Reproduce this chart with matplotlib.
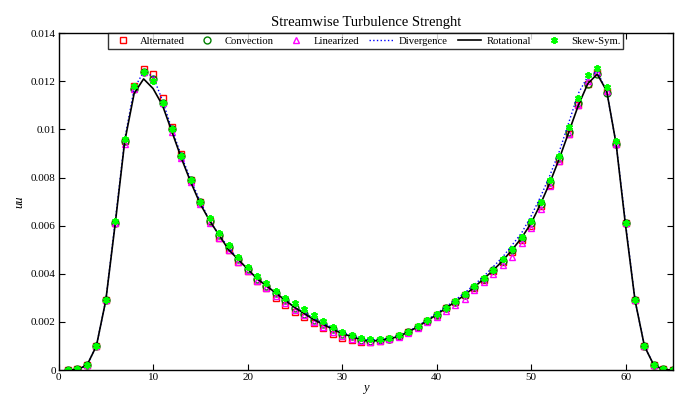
import numpy as np
import matplotlib
matplotlib.use("Agg")
import matplotlib.pyplot as plt

plt.rcParams["font.family"] = ["Liberation Serif", "DejaVu Serif"]
plt.rcParams["mathtext.fontset"] = "stix"

# grid points across the channel
y_pts = list(range(1, 66))

alternated = [
    0, 0.00003, 0.0002, 0.001, 0.0029, 0.0061, 0.0095, 0.0118, 0.0125, 0.0123,
    0.0113, 0.0101, 0.0090, 0.0079, 0.0070, 0.0062, 0.0055, 0.0050, 0.0045, 0.0041,
    0.0037, 0.0034, 0.0030, 0.0027, 0.0024, 0.0022, 0.00196, 0.00173, 0.00152, 0.00135,
    0.00124, 0.00117, 0.00117, 0.00121, 0.0013, 0.0014, 0.00157, 0.0018, 0.00205, 0.0023,
    0.00257, 0.00284, 0.00312, 0.00342, 0.00375, 0.0041, 0.0045, 0.0049, 0.0054, 0.0060,
    0.0068, 0.0077, 0.0087, 0.0098, 0.0110, 0.0119, 0.0124, 0.0116, 0.0094, 0.0061,
    0.0029, 0.0010, 0.0002, 0.00003, 0,
]
convection = [
    0, 0.00003, 0.0002, 0.001, 0.0029, 0.0061, 0.0095, 0.0117, 0.0124, 0.0121,
    0.0111, 0.0100, 0.0089, 0.0079, 0.0070, 0.0062, 0.0056, 0.0051, 0.0046, 0.0042,
    0.0038, 0.0035, 0.0032, 0.0029, 0.0026, 0.00235, 0.0021, 0.0019, 0.0017, 0.00152,
    0.0014, 0.00126, 0.0012, 0.00124, 0.0013, 0.0014, 0.00157, 0.0018, 0.00205, 0.0023,
    0.00257, 0.00285, 0.00313, 0.00345, 0.0038, 0.00415, 0.00455, 0.0050, 0.0055, 0.0061,
    0.0069, 0.0078, 0.0088, 0.0099, 0.0111, 0.0119, 0.0123, 0.0115, 0.0094, 0.0061,
    0.0029, 0.0010, 0.0002, 0.00003, 0,
]
linearized = [
    0, 0.00003, 0.0002, 0.001, 0.0029, 0.0061, 0.0094, 0.0117, 0.0124, 0.0121,
    0.0111, 0.0099, 0.0088, 0.0078, 0.0069, 0.0061, 0.0055, 0.0050, 0.0045, 0.0041,
    0.0037, 0.0034, 0.0031, 0.0028, 0.0025, 0.0023, 0.0020, 0.0018, 0.0016, 0.0014,
    0.0013, 0.0012, 0.00118, 0.00121, 0.00128, 0.00138, 0.00153, 0.00175, 0.00198, 0.0022,
    0.00245, 0.0027, 0.00297, 0.00331, 0.00366, 0.0040, 0.00435, 0.00472, 0.00527, 0.0059,
    0.0067, 0.00766, 0.0087, 0.0098, 0.0110, 0.0120, 0.0124, 0.0116, 0.0094, 0.0061,
    0.0029, 0.0010, 0.0002, 0.00003, 0,
]
divergence = [
    0, 0.00003, 0.0002, 0.001, 0.0029, 0.0062, 0.0096, 0.0117, 0.0124, 0.0122,
    0.0112, 0.0100, 0.0089, 0.0079, 0.0070, 0.0062, 0.0056, 0.0051, 0.0046, 0.0042,
    0.0038, 0.0035, 0.0032, 0.0029, 0.0026, 0.0024, 0.00215, 0.00195, 0.00175, 0.00157,
    0.00144, 0.0013, 0.00124, 0.00127, 0.00133, 0.00143, 0.0016, 0.00183, 0.00208, 0.00235,
    0.00263, 0.00292, 0.00322, 0.00355, 0.0039, 0.0043, 0.0047, 0.0052, 0.0057, 0.0064,
    0.0072, 0.0081, 0.0091, 0.0103, 0.0115, 0.0122, 0.0124, 0.0116, 0.0094, 0.0061,
    0.0029, 0.0010, 0.0002, 0.00003, 0,
]
rotational = [
    0, 0.00003, 0.0002, 0.001, 0.0029, 0.0061, 0.0095, 0.0115, 0.0121, 0.0117,
    0.0110, 0.0099, 0.0088, 0.0078, 0.0069, 0.0062, 0.0056, 0.0050, 0.0046, 0.0042,
    0.0038, 0.0035, 0.0032, 0.0029, 0.0026, 0.00235, 0.0021, 0.0019, 0.0017, 0.00152,
    0.0014, 0.00126, 0.0012, 0.00124, 0.0013, 0.0014, 0.00158, 0.0018, 0.00205, 0.0023,
    0.00258, 0.00285, 0.00313, 0.00345, 0.0038, 0.00415, 0.00455, 0.0050, 0.0055, 0.0061,
    0.0069, 0.0078, 0.0088, 0.0099, 0.0110, 0.0119, 0.0123, 0.0116, 0.0094, 0.0060,
    0.0029, 0.00099, 0.0002, 0.00003, 0,
]
skew_sym = [
    0, 0.00003, 0.0002, 0.001, 0.0029, 0.0062, 0.0096, 0.0118, 0.0124, 0.0120,
    0.0111, 0.0100, 0.0089, 0.0079, 0.0070, 0.0063, 0.0057, 0.0052, 0.0047, 0.0043,
    0.0039, 0.0036, 0.0033, 0.0030, 0.0028, 0.00255, 0.0023, 0.00204, 0.00179, 0.0016,
    0.00146, 0.00134, 0.00128, 0.0013, 0.00135, 0.00145, 0.0016, 0.00184, 0.00207, 0.00232,
    0.0026, 0.00287, 0.00315, 0.00348, 0.00382, 0.00418, 0.0046, 0.00502, 0.00555, 0.0062,
    0.0070, 0.0079, 0.0089, 0.0101, 0.0113, 0.01225, 0.01255, 0.01176, 0.0095, 0.0061,
    0.0029, 0.0010, 0.0002, 0.00003, 0,
]

y_ticks = [0, 0.002, 0.004, 0.006, 0.008, 0.01, 0.012, 0.014]
y_tick_labels = ["0", "0.002", "0.004", "0.006", "0.008", "0.01", "0.012", "0.014"]
x_ticks = [0, 10, 20, 30, 40, 50, 60]


def main():
    fig = plt.figure(figsize=(6.81, 3.95), dpi=100)
    ax = fig.add_axes([0.086, 0.063, 0.902, 0.853])

    ax.plot(y_pts, alternated, ls="none", marker="s", ms=5, mfc="none",
            mec="#FF0000", mew=1.0, label="Alternated")
    ax.plot(y_pts, convection, ls="none", marker="o", ms=5, mfc="none",
            mec="#008000", mew=1.0, label="Convection")
    ax.plot(y_pts, linearized, ls="none", marker="^", ms=5, mfc="none",
            mec="#FF00FF", mew=1.0, label="Linearized")
    ax.plot(y_pts, divergence, ls=":", color="#0000FF", lw=1.0, label="Divergence")
    ax.plot(y_pts, rotational, ls="-", color="black", lw=1.2, label="Rotational")
    ax.plot(y_pts, skew_sym, ls="none", marker=(6, 2, 0), ms=5,
            mec="#00FF00", mew=1.4, label="Skew-Sym.")

    ax.set_xlim(0, 65)
    ax.set_ylim(0, 0.014)
    ax.set_xticks(x_ticks)
    ax.set_yticks(y_ticks)
    ax.set_yticklabels(y_tick_labels)
    ax.tick_params(direction="in", top=True, right=True, length=4, width=0.8,
                   labelsize=8, pad=2)
    for s in ax.spines.values():
        s.set_linewidth(1.0)

    ax.set_title("Streamwise Turbulence Strenght", fontsize=10.5, pad=5)
    ax.set_xlabel("y", fontsize=9, style="italic", labelpad=0)
    ax.set_ylabel("uu", fontsize=9, style="italic", labelpad=4)

    leg = ax.legend(loc="upper center", ncol=6, fontsize=7.7, frameon=True,
                    fancybox=False, edgecolor="black", borderaxespad=0,
                    handlelength=2.2, handletextpad=0.5, columnspacing=1.0,
                    borderpad=0.3, bbox_to_anchor=(0.5, 1.0))
    leg.get_frame().set_linewidth(1.0)

    fig.savefig("out.png", dpi=100)


if __name__ == "__main__":
    main()
